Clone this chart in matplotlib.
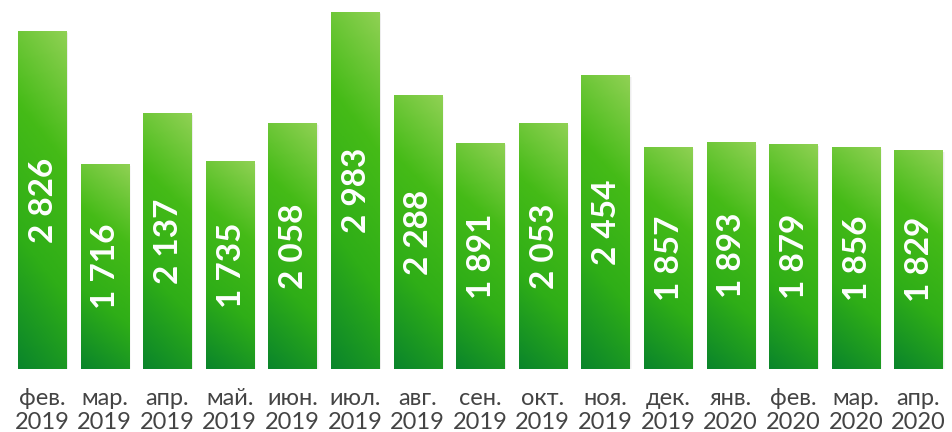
import numpy as np
import matplotlib
matplotlib.use('Agg')
from matplotlib import pyplot as plt, patches
from matplotlib.colors import LinearSegmentedColormap

months = ['фев.', 'мар.', 'апр.', 'май.', 'июн.', 'июл.', 'авг.', 'сен.',
          'окт.', 'ноя.', 'дек.', 'янв.', 'фев.', 'мар.', 'апр.']
years = ['2019'] * 11 + ['2020'] * 4
values = [2826, 1716, 2137, 1735, 2058, 2983, 2288, 1891,
          2053, 2454, 1857, 1893, 1879, 1856, 1829]

# green gradient: dark at the bottom-left, light at the top-right
cmap = LinearSegmentedColormap.from_list(
    'bar_green', ['#0a852b', '#2fae17', '#45bb17', '#90d154'])

fig = plt.figure(figsize=(9.53, 4.32), dpi=100)
ax = fig.add_axes([0, 0.1458, 1, 0.8542])
ax.axis('off')

width = 0.767
bars = ax.bar(range(len(values)), values, width=width, color='none', zorder=2)

# gradient image for one bar
gy, gx = np.mgrid[0:1:200j, 0:1:40j]
grad = 0.85 * gy + 0.15 * gx

for i, (bar, v) in enumerate(zip(bars, values)):
    x0 = bar.get_x()
    # soft shadow
    for k, a in enumerate([0.05, 0.04, 0.03]):
        d = 0.02 * (k + 1)
        sh = patches.Rectangle((x0 + d * 0.6, -d * 300), width, v,
                               facecolor='black', alpha=a, linewidth=0, zorder=1)
        ax.add_patch(sh)
    im = ax.imshow(grad, cmap=cmap, origin='lower', aspect='auto',
                   extent=(x0, x0 + width, 0, v), zorder=2, interpolation='bilinear')
    im.set_clip_path(bar)
    label = f'{v:,}'.replace(',', ' ')
    ax.text(i + 0.02, v / 2, label, rotation=90, ha='center', va='center',
            color='white', fontsize=24, fontweight='bold', family='Lato', zorder=3)
    # month and year, each on its own baseline
    ax.text(i, -300, months[i], ha='center', va='baseline',
            color='#444444', fontsize=17, family='Lato', clip_on=False)
    ax.text(i, -505, years[i], ha='center', va='baseline',
            color='#444444', fontsize=17, family='Lato', clip_on=False)

ax.set_xlim(-0.671, 14.553)
ax.set_ylim(0, 3083)
fig.savefig('out.png', dpi=100)
